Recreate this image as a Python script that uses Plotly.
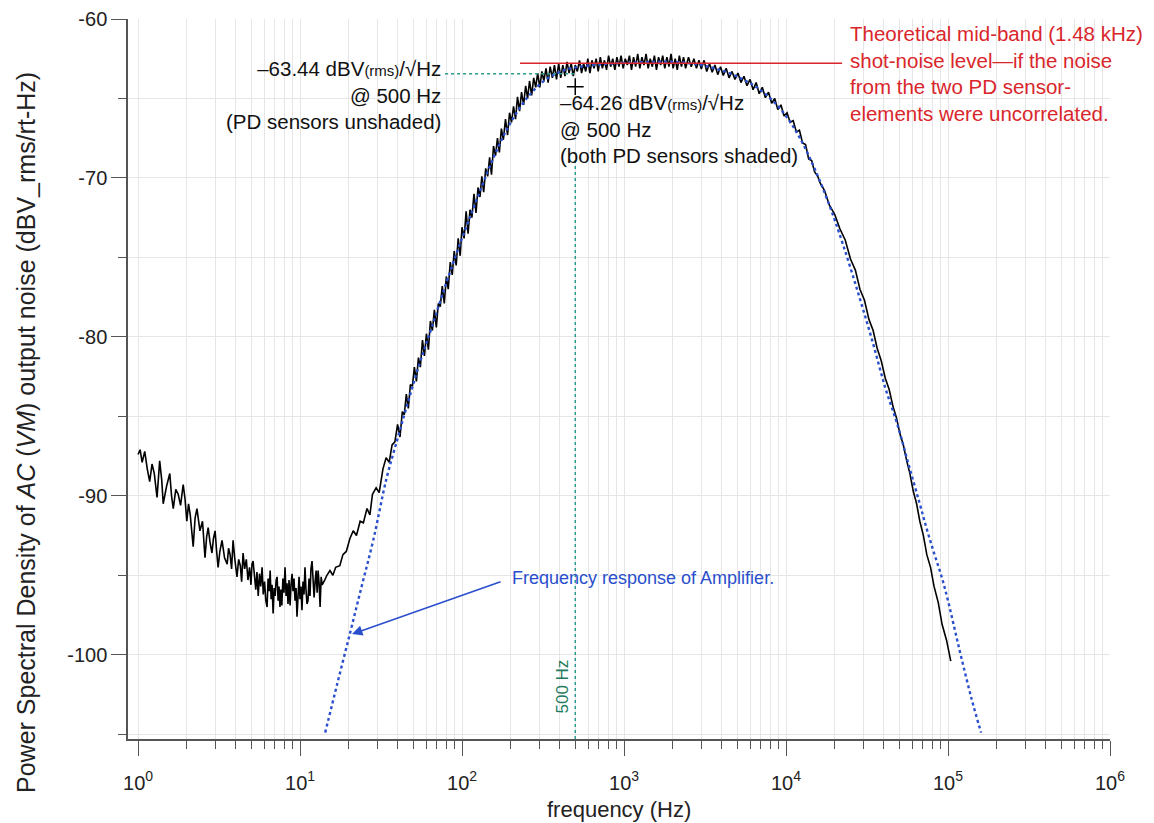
import plotly.graph_objects as go

low_freq = [1.00, 1.03, 1.06, 1.10, 1.14, 1.18, 1.22, 1.26, 1.31, 1.36,
            1.40, 1.43, 1.50, 1.57, 1.61, 1.65, 1.71, 1.77, 1.83, 1.90,
            1.95, 2.00, 2.05, 2.10, 2.19, 2.25, 2.31, 2.36, 2.41, 2.50,
            2.59, 2.65, 2.71, 2.78, 2.86, 2.92, 2.99, 3.05, 3.12, 3.20,
            3.30, 3.42, 3.55, 3.62, 3.70, 3.78, 3.86, 3.95, 4.08, 4.18,
            4.28, 4.36, 4.45, 4.55, 4.66, 4.77, 4.88, 4.98, 5.05, 5.13,
            5.25, 5.33, 5.42, 5.52, 5.62, 5.72, 5.83, 5.93, 6.04, 6.15,
            6.26, 6.35, 6.45, 6.54, 6.63, 6.72, 6.82, 6.92, 7.02, 7.12,
            7.22, 7.32, 7.42, 7.52, 7.62, 7.72, 7.84, 7.96, 8.08, 8.20,
            8.31, 8.43, 8.55, 8.68, 8.80, 8.93, 9.05, 9.18, 9.31, 9.45,
            9.58, 9.72, 9.86, 10.00, 10.14, 10.28, 10.43, 10.58, 10.73, 10.88,
            11.04, 11.20, 11.36, 11.52, 11.68, 11.86, 12.03, 12.21, 12.39, 12.57,
            12.75, 12.93, 13.11, 13.30, 13.50, 13.70]
low_psd = [-87.4, -87.1, -87.9, -87.2, -88.3, -89.1, -88.0, -88.6, -90.1, -87.8,
           -89.0, -90.5, -89.4, -88.6, -90.0, -90.8, -89.6, -89.9, -90.6, -89.3,
           -90.2, -91.6, -90.5, -91.2, -93.2, -91.4, -90.8, -91.7, -92.2, -91.6,
           -93.9, -92.6, -92.0, -92.9, -93.6, -92.7, -92.2, -93.4, -94.5, -93.5,
           -92.8, -93.9, -94.3, -93.3, -93.7, -94.6, -92.8, -93.9, -95.1, -94.0,
           -94.4, -95.4, -93.6, -94.6, -94.0, -95.3, -94.5, -95.6, -94.3, -94.1,
           -95.2, -95.9, -94.8, -96.3, -94.9, -95.7, -94.5, -96.2, -95.4, -96.6,
           -97.0, -95.2, -96.0, -94.7, -96.5, -95.6, -97.4, -95.8, -96.3, -95.3,
           -95.1, -96.6, -95.7, -97.0, -95.9, -96.9, -95.2, -96.1, -94.5, -96.3,
           -95.5, -96.8, -95.3, -96.9, -95.6, -94.9, -96.0, -95.2, -96.6, -95.8,
           -97.6, -96.1, -95.1, -96.5, -95.7, -97.2, -95.4, -96.2, -94.5, -95.9,
           -96.8, -96.6, -95.2, -96.3, -94.6, -94.1, -95.7, -96.4, -95.4, -94.7,
           -96.1, -94.7, -95.5, -97.0, -95.1, -95.6]

knee_freq = [14.2, 14.65, 15.3, 15.95, 16.6, 17.6, 18.4, 19.3, 20.3, 21.3,
             22.3, 23.5, 24.6, 25.9, 27.0, 28.0, 29.5, 30.8, 32.5, 34.0,
             35.5, 37.0, 38.5]
knee_psd = [-95.3, -95.0, -94.7, -95.0, -94.5, -94.4, -93.7, -93.5, -92.7, -92.2,
            -92.5, -91.6, -91.7, -90.8, -91.2, -89.9, -89.5, -89.8, -88.3, -87.6,
            -87.9, -86.8, -86.6]

mid_freq = [40.0, 41.4, 42.8, 44.0, 45.3, 46.6, 48.0, 49.4, 50.8, 52.3,
            53.8, 55.3, 57.0, 58.6, 60.3, 62.0, 63.8, 65.6, 67.5, 69.4,
            71.4, 73.4, 75.5, 77.7, 80.0, 82.2, 84.6, 87.0, 89.5, 92.0,
            94.7, 97.4, 100, 103, 106, 109, 112, 115, 118.5, 122,
            125.5, 129, 132.5, 136, 140, 144, 148, 152, 156.5, 161,
            165.5, 170, 175, 180, 185.5, 191, 196.5, 202, 208, 214,
            220, 226.5, 233, 240, 247, 254, 261, 269, 277, 285,
            293, 302, 311, 320, 330, 340, 350, 361, 372, 383,
            395, 407, 419, 432, 445, 458, 472, 486, 500, 515,
            531, 547, 563, 580, 598, 616, 634, 653, 673, 693,
            714, 735, 757, 780, 803, 827, 852, 878, 904, 931,
            959, 988, 1018, 1048, 1080, 1112, 1145, 1180, 1215, 1252,
            1290, 1328, 1368, 1409, 1451, 1495, 1540, 1586, 1634, 1683,
            1733, 1785, 1839, 1894, 1951, 2010, 2070, 2132, 2196, 2262,
            2330, 2400]
mid_psd = [-85.5, -86.3, -84.7, -84.9, -83.6, -84.5, -83.0, -83.1, -81.9, -82.8,
           -81.3, -81.9, -80.2, -81.2, -79.8, -80.8, -79.0, -79.6, -78.3, -79.4,
           -77.9, -78.1, -76.8, -77.9, -76.2, -77.0, -75.3, -76.1, -74.6, -75.5,
           -73.8, -74.9, -73.1, -73.8, -72.1, -73.5, -72.0, -72.5, -71.0, -72.2,
           -70.6, -71.2, -69.9, -70.9, -69.4, -69.9, -68.7, -69.8, -68.0, -68.6,
           -67.5, -68.4, -66.9, -67.6, -66.3, -67.3, -65.9, -66.5, -65.5, -66.3,
           -64.9, -65.8, -64.6, -65.4, -64.2, -65.0, -63.9, -64.8, -63.7, -64.3,
           -63.4, -64.3, -63.3, -63.9, -63.1, -64.0, -63.0, -63.7, -62.9, -63.8,
           -62.8, -63.7, -62.9, -63.6, -62.7, -63.4, -62.8, -63.6, -62.9, -63.3,
           -62.6, -63.4, -62.8, -63.3, -62.5, -63.4, -62.6, -63.1, -62.5, -63.3,
           -62.4, -63.1, -62.6, -63.2, -62.3, -63.0, -62.5, -63.2, -62.4, -63.0,
           -62.3, -63.1, -62.5, -62.9, -62.3, -63.2, -62.4, -63.0, -62.2, -63.1,
           -62.4, -62.9, -62.2, -63.1, -62.5, -63.0, -62.3, -63.2, -62.4, -62.9,
           -62.3, -63.1, -62.4, -63.0, -62.2, -63.1, -62.5, -63.2, -62.3, -63.0,
           -62.4, -63.1]

high_freq = [2500, 2600, 2700, 2800, 2900, 3000, 3120, 3240, 3370, 3500,
             3640, 3790, 3940, 4100, 4270, 4450, 4640, 4840, 5050, 5270,
             5500, 5740, 6000, 6260, 6540, 6830, 7140, 7460, 7800, 8150,
             8520, 8900, 9300, 9720, 10150, 10600, 11080, 11580, 12100, 12650,
             13200, 13800, 14400, 15000, 15700, 16200, 17300, 18500, 20000, 21500,
             23200, 25000, 26800, 28600, 30500, 32500, 34500, 36500, 38700, 41000,
             43300, 45800, 48100, 50500, 53000, 55600, 58200, 61000, 64000, 67000,
             70500, 74000, 78000, 82000, 87000, 92000, 98000, 104000]
high_psd = [-62.4, -63.0, -62.5, -63.1, -62.6, -63.15, -62.6, -63.3, -62.8, -63.35,
            -62.9, -63.5, -63.0, -63.55, -63.1, -63.7, -63.3, -63.8, -63.4, -64.0,
            -63.6, -64.2, -63.8, -64.45, -64.0, -64.7, -64.3, -64.95, -64.6, -65.3,
            -65.0, -65.7, -65.4, -66.1, -65.9, -66.5, -66.4, -67.1, -67.0, -67.8,
            -67.9, -68.8, -68.9, -69.6, -69.9, -70.3, -70.8, -71.7, -72.3, -73.2,
            -73.9, -75.1, -75.8, -77.0, -77.7, -78.9, -79.6, -80.7, -81.5, -82.6,
            -83.3, -84.4, -85.1, -86.1, -86.8, -87.8, -88.6, -89.7, -90.5, -91.6,
            -92.5, -93.7, -94.5, -95.7, -96.7, -98.1, -99.1, -100.4]

# amplifier frequency response (blue dotted)
amp_freq = [14.3, 17, 20.4, 24, 28.3, 34.2, 40, 45.5, 55, 65,
            80, 100, 125, 160, 200, 260, 330, 420, 500, 650,
            850, 1100, 1500, 2000, 2600, 3300, 4200, 5300, 6600, 8200,
            10000, 12200, 15000, 18500, 22500, 28000, 34000, 41000, 49000, 57000,
            66500, 74000, 82000, 92000, 100000, 110000, 121000, 140000, 160000]
amp_psd = [-104.9, -101.8, -98.6, -95.7, -92.8, -88.9, -86.4, -84.4, -81.6, -79.4,
           -76.6, -73.8, -71.2, -68.5, -66.5, -64.8, -63.8, -63.25, -63.05, -62.9,
           -62.8, -62.75, -62.7, -62.7, -62.8, -63.0, -63.3, -63.75, -64.3, -65.1,
           -66.1, -67.5, -69.4, -71.7, -74.2, -77.3, -80.2, -83.2, -85.6, -88.0,
           -90.4, -92.1, -93.6, -95.2, -96.6, -98.4, -100.2, -102.8, -104.9]

# reference levels
shot_noise_freq = [228, 22200]
shot_noise_level = -62.78
marker_freq = 500
unshaded_level = -63.44
shaded_level = -64.26

decades = [1, 10, 100, 1000, 10000, 100000, 1000000]
decade_text = ["10<sup>0</sup>", "10<sup>1</sup>", "10<sup>2</sup>", "10<sup>3</sup>",
               "10<sup>4</sup>", "10<sup>5</sup>", "10<sup>6</sup>"]
y_ticks = [-100, -90, -80, -70, -60]
y_text = ["-100", "-90", "-80", "-70", "-60"]
minor_x = [m * d for d in decades[:-1] for m in range(2, 10)]

FONT = "Liberation Sans, Arial, Helvetica, sans-serif"
TEAL = "#2b9a8c"
RED = "#d9262b"
BLUE = "#2a4fcc"

meas_freq = low_freq + knee_freq + mid_freq + high_freq
meas_psd = low_psd + knee_psd + mid_psd + high_psd

fig = go.Figure()

fig.add_trace(go.Scatter(x=meas_freq, y=meas_psd, mode="lines",
                         line=dict(color="black", width=1.6)))
fig.add_trace(go.Scatter(x=amp_freq, y=amp_psd, mode="lines", line_shape="spline",
                         line=dict(color=BLUE, width=2.4, dash="dot")))
fig.add_trace(go.Scatter(x=shot_noise_freq, y=[shot_noise_level] * 2, mode="lines",
                         line=dict(color=RED, width=1.6)))
fig.add_trace(go.Scatter(x=[78.6, marker_freq], y=[unshaded_level] * 2, mode="lines",
                         line=dict(color=TEAL, width=1.5, dash="dot")))
fig.add_trace(go.Scatter(x=[marker_freq, marker_freq], y=[-105.3, -68.8], mode="lines",
                         line=dict(color=TEAL, width=1.5, dash="dot")))
fig.add_trace(go.Scatter(x=[marker_freq], y=[shaded_level], mode="markers",
                         marker=dict(symbol="cross-thin", size=12,
                                     line=dict(color="black", width=1.5))))

txt = dict(family=FONT, size=20.5, color="#111")
rms = '<span style="font-size:15px">(rms)</span>'
fig.add_annotation(x=1.883, y=-64.8, xref="x", yref="y", xanchor="right", yanchor="middle",
                   align="right", showarrow=False, font=txt,
                   text=f"\u201363.44 dBV{rms}/\u221aHz<br>@ 500 Hz<br>(PD sensors unshaded)")
fig.add_annotation(x=2.593, y=-66.9, xref="x", yref="y", xanchor="left", yanchor="middle",
                   align="left", showarrow=False, font=txt,
                   text=f"\u201364.26 dBV{rms}/\u221aHz<br>@ 500 Hz<br>(both PD sensors shaded)")
fig.add_annotation(x=4.383, y=-63.4, xref="x", yref="y", xanchor="left", yanchor="middle",
                   align="left", showarrow=False, font=dict(family=FONT, size=20.5, color=RED),
                   text="Theoretical mid-band (1.48 kHz)<br>shot-noise level\u2014if the noise<br>"
                        "from the two PD sensor-<br>elements were uncorrelated.")
fig.add_annotation(x=2.296, y=-95.2, xref="x", yref="y", xanchor="left", yanchor="middle",
                   showarrow=False, font=dict(family=FONT, size=18, color=BLUE),
                   text="Frequency response of Amplifier.")
fig.add_annotation(x=1.321, y=-98.7, xref="x", yref="y", ax=150, ay=-53, text="",
                   showarrow=True, arrowhead=2, arrowsize=1.3, arrowwidth=1.6, arrowcolor=BLUE)
fig.add_annotation(x=2.623, y=-102.0, xref="x", yref="y", textangle=-90, showarrow=False,
                   font=dict(family=FONT, size=17, color="#1f7a5e"), text="500 Hz")

# axis titles (annotations so they can sit exactly where the original has them)
fig.add_annotation(x=0, y=0.425, xref="paper", yref="paper", xshift=-102, textangle=-90,
                   xanchor="center", yanchor="middle",
                   showarrow=False, font=dict(family=FONT, size=25, color="#222"),
                   text="Power Spectral Density of <i>AC</i> (<i>VM</i>) output noise (dBV_rms/rt-Hz)")
fig.add_annotation(x=0.5, y=0, xref="paper", yref="paper", yshift=-70,
                   xanchor="center", yanchor="middle", showarrow=False,
                   font=dict(family=FONT, size=22, color="#222"), text="frequency (Hz)")

grid = "#e6e6e6"
fig.update_xaxes(type="log", range=[-0.062, 6.0], tickvals=decades, ticktext=decade_text,
                 automargin=False, ticklabelstandoff=10,
                 ticks="outside", ticklen=15, tickwidth=1.3, tickcolor="#555",
                 showline=True, linecolor="#555", linewidth=1.5,
                 showgrid=True, gridcolor=grid, gridwidth=1, zeroline=False,
                 tickfont=dict(family=FONT, size=20, color="#222"),
                 minor=dict(tickvals=minor_x, ticks="outside", ticklen=8, tickcolor="#555",
                            showgrid=True, gridcolor=grid, gridwidth=1))
fig.update_yaxes(range=[-105.3, -60], tickvals=y_ticks, ticktext=y_text,
                 automargin=False, ticklabeloverflow="allow",
                 ticks="outside", ticklen=15, tickwidth=1.3, tickcolor="#555",
                 showline=True, linecolor="#555", linewidth=1.5,
                 showgrid=True, gridcolor=grid, gridwidth=1, zeroline=False,
                 tickfont=dict(family=FONT, size=20, color="#222"),
                 minor=dict(tick0=-60, dtick=5, ticks="outside", ticklen=8, tickcolor="#555",
                            showgrid=True, gridcolor=grid, gridwidth=1))

# the page body adds an 8 px offset, so the figure is sized to the visible area
fig.update_layout(width=1146, height=815, showlegend=False,
                  margin=dict(l=120, r=44, t=11, b=84),
                  plot_bgcolor="white", paper_bgcolor="white",
                  font=dict(family=FONT))

fig.write_html("out.html")
